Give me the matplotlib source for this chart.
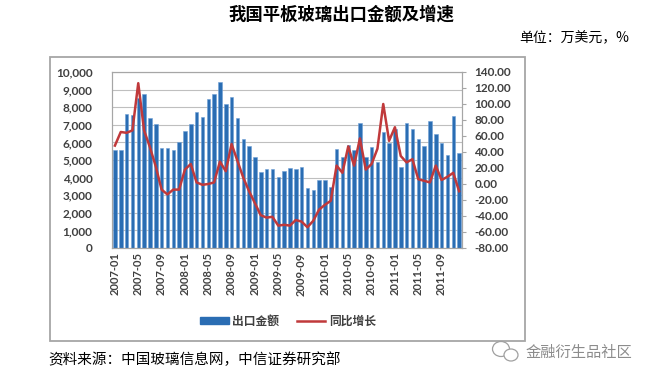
import matplotlib
matplotlib.use("Agg")
import matplotlib.pyplot as plt
from matplotlib.patches import Rectangle, Ellipse
from matplotlib.lines import Line2D
from matplotlib.patches import Patch
from matplotlib.ticker import FuncFormatter, FixedLocator
import numpy as np

plt.rcParams['font.family'] = ['Lato', 'Noto Sans CJK SC', 'DejaVu Sans']

months = [f"{y}-{m:02d}" for y in range(2007, 2012) for m in range(1, 13)]
exports = [5570, 5570, 7610, 7560, 8550, 8740, 7360, 7045, 5680, 5680,
           5570, 6040, 6650, 7045, 7750, 7420, 8450, 8730, 9430, 8180,
           8560, 7370, 6180, 5800, 5190, 4300, 4470, 4510, 4020, 4390,
           4530, 4470, 4600, 3390, 3300, 3860, 3860, 3450, 5610, 5150,
           5850, 5570, 7120, 5190, 5720, 4870, 6610, 5950, 6740, 4620,
           7080, 6780, 6190, 5810, 7240, 6480, 5990, 5280, 7520, 5420]
growth = [48, 65, 64, 67, 126, 67, 46, 22, -7, -13,
          -7, -7, 18, 25, 2, -1, 0, 2, 28, 16,
          50, 29, 8, -9, -24, -39, -42, -41, -52, -51,
          -52, -45, -47, -54, -46, -32, -26, -21, 23, 14,
          47, 23, 57, 18, 25, 44, 100, 54, 71, 35,
          27, 31, 6, 4, 2, 23, 5, 9, 14, -9]
left_ticks = list(range(0, 10001, 1000))
right_ticks = list(range(-80, 141, 20))
series_names = ['出口金额', '同比增长']
title = '我国平板玻璃出口金额及增速'
unit = '单位：万美元，%'
source = '资料来源：中国玻璃信息网，中信证券研究部'
watermark = '金融衍生品社区'

W, H = 654, 382
fig = plt.figure(figsize=(W / 100, H / 100), dpi=100)

def fx(px):
    return px / W

def fy(py):
    return 1 - py / H

# outer box
box = Rectangle((fx(50), fy(341)), fx(525) - fx(50), fy(57) - fy(341),
                transform=fig.transFigure, fill=False, edgecolor='#A6A6A6',
                linewidth=1.3, zorder=0)
fig.patches.append(box)

ax = fig.add_axes([fx(112), fy(248), fx(462) - fx(112), fy(72) - fy(248)])
x = np.arange(len(months))
bar_color = '#2A6DB3'
line_color = '#C0393B'
ax.bar(x, exports, width=0.6, color=bar_color, edgecolor='#6FA0D6',
       linewidth=0.4, zorder=2)
ax.set_xlim(-0.5, len(months) - 0.5)
ax.set_ylim(0, 10000)
ax.set_yticks(left_ticks)
ax.yaxis.set_major_formatter(FuncFormatter(lambda v, p: f"{int(v):,}"))
ax.grid(axis='y', color='#BFBFBF', linewidth=0.8, zorder=0)
ax.set_axisbelow(True)
ax.set_xticks(x[::4])
ax.set_xticklabels(months[::4], rotation=90, fontsize=8, color='#404040',
                   fontweight='bold')
ax.tick_params(axis='x', length=0, pad=3)
ax.tick_params(axis='y', length=0, pad=14, labelsize=8.5, labelcolor='#404040')
for lab in ax.get_yticklabels():
    lab.set_fontweight('bold')
for s in ax.spines.values():
    s.set_color('#A6A6A6')
    s.set_linewidth(0.8)

ax2 = ax.twinx()
ax2.plot(x, growth, color=line_color, linewidth=1.8, zorder=3)
ax2.set_ylim(-80, 140)
ax2.set_yticks(right_ticks)
ax2.yaxis.set_major_formatter(FuncFormatter(lambda v, p: f"{v:.2f}"))
ax2.tick_params(axis='y', length=3, color='#A6A6A6', labelsize=8.5,
                labelcolor='#404040', pad=6)
for lab in ax2.get_yticklabels():
    lab.set_fontweight('bold')
for s in ax2.spines.values():
    s.set_color('#A6A6A6')
    s.set_linewidth(0.8)

# title and texts
fig.text(fx(341), fy(15), title, ha='center', va='center', fontsize=12.5,
         fontweight='bold', family=['Noto Sans CJK SC', 'DejaVu Sans'], color='#000000')
fig.text(fx(629), fy(38), unit, ha='right', va='center', fontsize=10,
         family=['Noto Sans CJK SC', 'DejaVu Sans'], color='#000000')
fig.text(fx(48), fy(360), source, ha='left', va='center', fontsize=10.5,
         family=['Noto Sans CJK SC', 'DejaVu Sans'], color='#000000')
fig.text(fx(526), fy(352), watermark, ha='left', va='center', fontsize=11,
         family=['Noto Sans CJK SC', 'DejaVu Sans'], color='#8C8C8C')
# wechat-like icon
e1 = Ellipse((fx(501), fy(349)), fx(17), 15 / H, transform=fig.transFigure,
             fill=False, edgecolor='#A0A0A0', linewidth=0.9)
e2 = Ellipse((fx(511), fy(355)), fx(14), 12 / H, transform=fig.transFigure,
             fill=True, facecolor='white', edgecolor='#A0A0A0', linewidth=0.9)
fig.patches.extend([e1, e2])

handles = [Patch(facecolor=bar_color, edgecolor=bar_color),
           Line2D([0], [0], color=line_color, linewidth=1.8)]
leg = fig.legend(handles, series_names, loc='center', bbox_to_anchor=(fx(288), fy(321)),
                 ncol=2, frameon=False, fontsize=8.5, handlelength=2.4,
                 handleheight=0.5, columnspacing=1.5, handletextpad=0.3,
                 prop={'family': ['Noto Sans CJK SC', 'DejaVu Sans'], 'size': 8.5,
                       'weight': 'bold'})
for t in leg.get_texts():
    t.set_color('#404040')

fig.savefig('out.png', dpi=100)
